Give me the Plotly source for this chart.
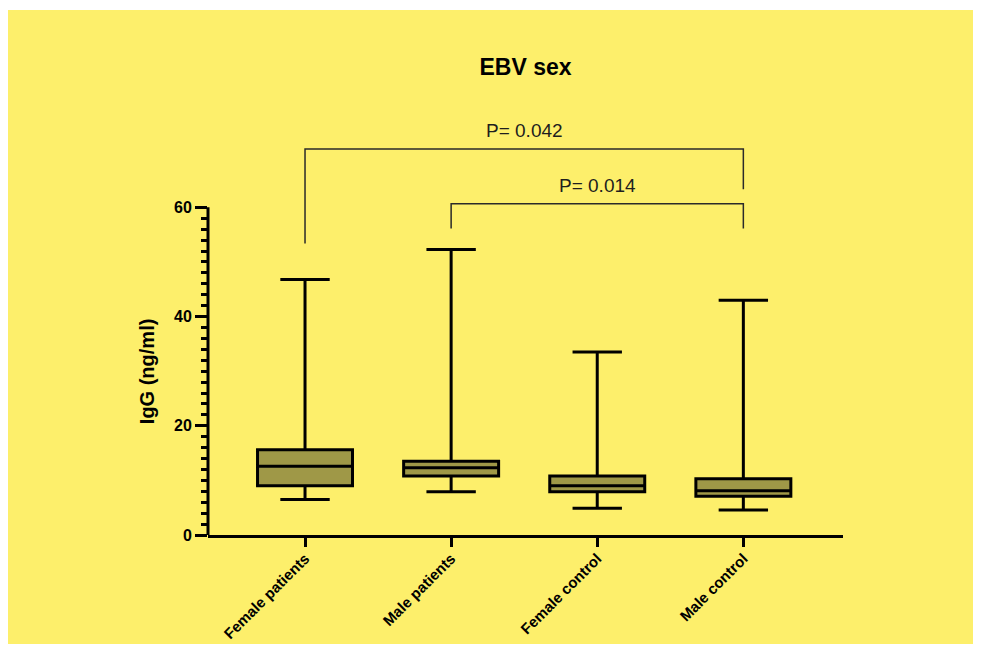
import plotly.graph_objects as go

# ---- data ----
categories = ["Female patients", "Male patients", "Female control", "Male control"]
lower_whisker = [6.5, 7.9, 4.9, 4.6]
q1_values = [9.0, 10.8, 7.9, 7.1]
median_values = [12.6, 12.3, 9.0, 8.1]
q3_values = [15.6, 13.5, 10.8, 10.3]
upper_whisker = [46.8, 52.3, 33.5, 43.0]

y_major_ticks = [0, 20, 40, 60]
y_minor_ticks = [v for v in range(2, 60, 2) if v % 20 != 0]

# significance brackets
bracket_left = ["Female patients", "Male patients"]
bracket_right = ["Male control", "Male control"]
bracket_top = [70.7, 60.65]
bracket_left_end = [53.4, 56.15]
bracket_right_end = [63.3, 56.15]
bracket_labels = ["P= 0.042", "P= 0.014"]

# ---- styling (page has an 8px body margin, figure fits inside) ----
W, H = 965, 636
L, R, T, B = 200, 130, 112, 109
YELLOW = "#FDEF6B"
BOXFILL = "#9F9847"
FONT = "Arial, Liberation Sans, sans-serif"

pw = W - L - R
ph = H - T - B

fig = go.Figure()
fig.add_trace(go.Box(
    x=categories,
    q1=q1_values,
    median=median_values,
    q3=q3_values,
    lowerfence=lower_whisker,
    upperfence=upper_whisker,
    width=0.65,
    whiskerwidth=0.52,
    fillcolor=BOXFILL,
    line=dict(color="black", width=3),
    boxpoints=False,
    hoverinfo="skip",
    showlegend=False,
))

shapes = []
# yellow background panel (thin white strip at the top as in reference)
shapes.append(dict(
    type="rect", xref="paper", yref="paper", layer="below",
    x0=(-5 - L) / pw, x1=(W + 5 - L) / pw,
    y0=(H - B - (H + 5)) / ph, y1=(H - B - 2) / ph,
    fillcolor=YELLOW, line=dict(width=0),
))
# y axis line only from 0 to 60
shapes.append(dict(
    type="line", xref="paper", yref="y",
    x0=0, x1=0, y0=y_major_ticks[0], y1=y_major_ticks[-1],
    line=dict(color="black", width=3),
))

annotations = []
for lft, rgt, top, le, re_, lab in zip(bracket_left, bracket_right, bracket_top,
                                        bracket_left_end, bracket_right_end, bracket_labels):
    xi0 = categories.index(lft)
    xi1 = categories.index(rgt)
    shapes.append(dict(
        type="path", xref="x", yref="y",
        path=f"M {xi0},{le} L {xi0},{top} L {xi1},{top} L {xi1},{re_}",
        line=dict(color="#2a2a2a", width=1.5),
    ))
    annotations.append(dict(
        x=(xi0 + xi1) / 2, y=top + 3.4, xref="x", yref="y",
        text=lab, showarrow=False, yanchor="middle",
        font=dict(family=FONT, size=19, color="#1e1e1e"),
    ))

# y-axis title centred on the 0-60 axis
annotations.append(dict(
    x=(139 - L) / pw, y=(y_major_ticks[0] + y_major_ticks[-1]) / 2,
    xref="paper", yref="y", text="<b>IgG (ng/ml)</b>", textangle=-90,
    showarrow=False, xanchor="center", yanchor="middle",
    font=dict(family=FONT, size=20, color="black"),
))

fig.update_layout(
    width=W, height=H,
    margin=dict(l=L, r=R, t=T, b=B, autoexpand=False),
    paper_bgcolor="white",
    plot_bgcolor="rgba(0,0,0,0)",
    shapes=shapes,
    annotations=annotations,
    title=dict(
        text="<b>EBV sex</b>",
        x=0.5, xref="paper", xanchor="center",
        y=1 - 59 / H, yref="container", yanchor="middle",
        font=dict(family=FONT, size=23, color="black"),
    ),
    font=dict(family=FONT, color="black"),
    xaxis=dict(
        type="category",
        categoryorder="array", categoryarray=categories,
        range=[-0.664, 3.682],
        automargin=False,
        showline=True, linecolor="black", linewidth=3,
        ticks="outside", ticklen=9, tickwidth=3, tickcolor="black",
        tickangle=-45,
        ticklabelstandoff=-3,
        tickfont=dict(family=FONT, size=15, color="black", weight="bold"),
        showgrid=False, zeroline=False,
    ),
    yaxis=dict(
        range=[0, 76],
        automargin=False,
        showline=False,
        tickmode="array", tickvals=y_major_ticks,
        ticktext=[str(v) for v in y_major_ticks],
        ticks="outside", ticklen=12, tickwidth=3, tickcolor="black",
        tickfont=dict(family=FONT, size=16, color="black", weight="bold"),
        minor=dict(tickmode="array", tickvals=y_minor_ticks, ticks="outside",
                   ticklen=6, tickwidth=2.5, tickcolor="black", showgrid=False),
        showgrid=False, zeroline=False,
    ),
)

fig.write_html("out.html")
